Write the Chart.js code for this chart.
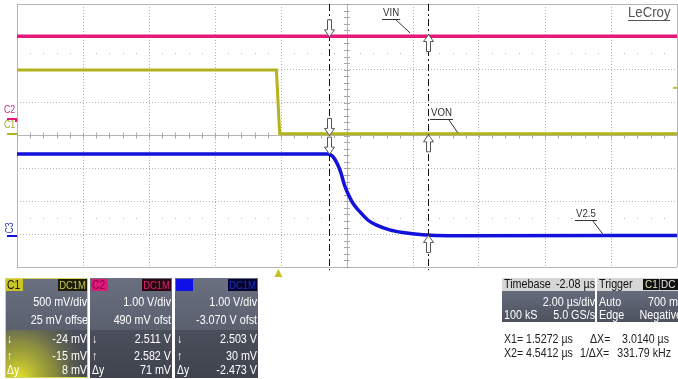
<!DOCTYPE html>
<html>
<head>
<meta charset="utf-8">
<script src="https://cdn.jsdelivr.net/npm/chart.js@4"></script>
<style>
  html, body { margin: 0; padding: 0; background: #fff; }
  #wrap { position: relative; width: 678px; height: 379px; }
</style>
</head>
<body>
<div id="wrap"><canvas id="scope" width="678" height="379"></canvas></div>
<script>
// Scope capture: time in µs, levels in volts
const X_MIN   = -7.92;   // left edge of the screen, µs
const X_DIV   = 2.0;     // µs/div
const N_XDIV  = 10;
const N_YDIV  = 8;

const C1_T = [-7.92, -0.06, 0.04, 12.08];
const C1_V = [0.972, 0.972, 0.0, 0.0];

const C2_T = [-7.92, 12.08];
const C2_V = [2.53, 2.53];

const C3_T = [-7.92, 1.50, 1.65, 1.80, 1.90, 2.00, 2.10, 2.26, 2.46, 2.71, 2.96, 3.37, 3.77, 4.37, 5.18, 12.08];
const C3_V = [2.51, 2.51, 2.43, 2.18, 1.92, 1.57, 1.32, 1.01, 0.76, 0.50, 0.35, 0.20, 0.12, 0.05, 0.02, 0.03];

// channel setup
const CH_NAMES  = ['C1', 'C2', 'C3'];
const CH_VDIV   = [0.5, 1.0, 1.0];
const CH_OFST   = [0.025, 0.49, -3.07];
const CH_COLORS = ['#b3b31c', '#e8177c', '#1212dc'];

// cursors
const CURSOR_X  = [1.5272, 4.5412];
const C1_CUR    = [-0.024, -0.015];
const C2_CUR    = [2.511, 2.582];
const C3_CUR    = [2.503, 0.030];

const TRIG_T     = 0;
const TRIG_LEVEL = 0.7;   // on C1

// trace labels: [text, time, volts, channel index] (leader line ends on the trace)
const TRACE_LABELS = [
  ['VIN',  3.99, 2.60, 1],
  ['VON',  5.44, 0.0,  0],
  ['V2.5', 9.84, 0.03, 2],
];

const pts = (t, v) => t.map((x, i) => ({ x, y: v[i] }));
const axisId = i => 'y' + (i + 1);

// --- drawing helpers ---
function txt(ctx, s, x, y, o = {}) {
  ctx.save();
  ctx.translate(x, y);
  ctx.scale(o.sx || 0.86, 1);
  ctx.font = `${o.weight || 'normal'} ${o.size || 12}px "Liberation Sans", Arial, sans-serif`;
  ctx.fillStyle = o.color || '#fff';
  ctx.textAlign = o.align || 'left';
  ctx.textBaseline = 'middle';
  ctx.fillText(s, 0, 0);
  const w = ctx.measureText(s).width * (o.sx || 0.86);
  ctx.restore();
  return w;
}

function arrow(ctx, x, yTip, dir) {
  // dir 1 = points down (body above tip), -1 = points up
  const hw = 5, sw = 2, headH = 7, len = 17;
  const yb = yTip - dir * len, yh = yTip - dir * headH;
  ctx.beginPath();
  ctx.moveTo(x - sw, yb); ctx.lineTo(x + sw, yb); ctx.lineTo(x + sw, yh);
  ctx.lineTo(x + hw, yh); ctx.lineTo(x, yTip); ctx.lineTo(x - hw, yh);
  ctx.lineTo(x - sw, yh); ctx.closePath();
  ctx.fillStyle = '#fff'; ctx.fill();
  ctx.strokeStyle = '#555'; ctx.lineWidth = 1; ctx.stroke();
}

function chPanel(ctx, x0, w, i, rows) {
  const y0 = 278, h = 100, mid = 330;
  ctx.save();
  ctx.beginPath(); ctx.rect(x0, y0, w, h); ctx.clip();
  let g = ctx.createLinearGradient(0, y0, 0, mid);
  g.addColorStop(0, '#6a7080'); g.addColorStop(1, '#5a606e');
  ctx.fillStyle = g; ctx.fillRect(x0, y0, w, mid - y0);
  g = ctx.createLinearGradient(0, mid, 0, y0 + h);
  g.addColorStop(0, '#4a4f5b'); g.addColorStop(1, '#3e434e');
  ctx.fillStyle = g; ctx.fillRect(x0, mid, w, y0 + h - mid);
  if (i === 0) {
    const rg = ctx.createRadialGradient(x0 + 14, y0 + h, 2, x0 + 14, y0 + h, 72);
    rg.addColorStop(0, 'rgba(222,222,40,1)');
    rg.addColorStop(0.5, 'rgba(180,180,50,0.6)');
    rg.addColorStop(1, 'rgba(120,120,80,0)');
    ctx.fillStyle = rg; ctx.fillRect(x0, mid, w, y0 + h - mid);
  }
  // header
  const hdrBg  = ['#c9c42a', '#e01a7c', '#1010e8'];
  const hdrTx  = ['#1a1a00', '#8a0040', '#1010e8'];
  const dcBg   = ['#1c1c08', '#2a0612', '#04042e'];
  const dcTx   = ['#c8c850', '#e0206e', '#1c2cc8'];
  ctx.fillStyle = hdrBg[i]; ctx.fillRect(x0 + 1, y0 + 1, 17, 12);
  txt(ctx, CH_NAMES[i], x0 + 2, y0 + 7.5, { color: hdrTx[i], size: 12 });
  ctx.fillStyle = dcBg[i]; ctx.fillRect(x0 + w - 30, y0 + 1, 29, 12);
  txt(ctx, 'DC1M', x0 + w - 2, y0 + 7.5, { color: dcTx[i], size: 11, align: 'right' });
  // rows
  const ys = [303, 321, 340, 357, 371];
  const sym = ['', '', '\u2193', '\u2191', '\u0394y'];
  rows.forEach((r, k) => {
    txt(ctx, r, x0 + w + (k === 1 && i === 0 ? 3 : -1), ys[k], { align: 'right', size: 12.5 });
    if (sym[k]) txt(ctx, sym[k], x0 + 2, ys[k], { size: 12 });
  });
  ctx.restore();
  if (i === 0) {
    ctx.strokeStyle = '#d8d460'; ctx.lineWidth = 1;
    ctx.strokeRect(x0 + 0.5, y0 + 0.5, w - 1, h - 1);
  }
}

const fmtV = v => Math.abs(v) < 1 ? `${Math.round(v * 1000)} mV` : `${v.toFixed(3)} V`;

const scopeDecor = {
  id: 'scopeDecor',
  beforeDatasetsDraw(chart) {
    const { ctx, scales } = chart;
    const xs = scales.x, yd = scales.yDiv;
    const xc = xs.getPixelForValue(X_MIN + X_DIV * N_XDIV / 2), yc = yd.getPixelForValue(0);
    ctx.save();
    ctx.strokeStyle = '#a8a8a8'; ctx.lineWidth = 1;
    // sub-division ticks on the centre axes
    for (let k = 0; k <= N_XDIV * 5; k++) {
      const x = Math.round(xs.getPixelForValue(X_MIN + k * X_DIV / 5)) + 0.5;
      ctx.beginPath(); ctx.moveTo(x, yc - 3); ctx.lineTo(x, yc + 3); ctx.stroke();
    }
    for (let k = 0; k <= N_YDIV * 5; k++) {
      const y = Math.round(yd.getPixelForValue(-4 + k / 5)) + 0.5;
      ctx.beginPath(); ctx.moveTo(xc - 3, y); ctx.lineTo(xc + 3, y); ctx.stroke();
    }
    // dotted rows at +/-2.5 div
    ctx.fillStyle = '#b8b8b8';
    [2.5, -2.5].forEach(d => {
      const y = Math.round(yd.getPixelForValue(d));
      for (let k = 1; k < N_XDIV * 5; k++) {
        if (k % 5 === 0) continue;
        ctx.fillRect(Math.round(xs.getPixelForValue(X_MIN + k * X_DIV / 5)), y, 1, 1);
      }
    });
    ctx.restore();
  },
  afterDatasetsDraw(chart) {
    const { ctx, chartArea: a, scales } = chart;
    const xs = scales.x;
    ctx.save();
    // cursors
    ctx.strokeStyle = '#111'; ctx.lineWidth = 1; ctx.setLineDash([7, 3, 2, 3]);
    CURSOR_X.forEach(t => {
      const x = Math.round(xs.getPixelForValue(t)) + 0.5;
      ctx.beginPath(); ctx.moveTo(x, a.top); ctx.lineTo(x, a.bottom + 3); ctx.stroke();
    });
    ctx.setLineDash([]);
    [C1_CUR, C2_CUR, C3_CUR].forEach((cur, i) => {
      const ys = scales[axisId(i)];
      cur.forEach((v, k) => arrow(ctx, Math.round(xs.getPixelForValue(CURSOR_X[k])) + 0.5,
        ys.getPixelForValue(v), k === 0 ? 1 : -1));
    });
    // trace labels with leader lines
    TRACE_LABELS.forEach(([s, t, v, ch]) => {
      const xe = xs.getPixelForValue(t), ye = scales[axisId(ch)].getPixelForValue(v);
      const xl = Math.round(xe - 28), yl = Math.round(ye - 15);
      const lw = txt(ctx, s, xl + 1, yl - 6, { color: '#333', size: 11, sx: 0.88 }) + 2;
      ctx.strokeStyle = '#333'; ctx.lineWidth = 1;
      ctx.beginPath(); ctx.moveTo(xl, yl + 0.5); ctx.lineTo(xl + lw, yl + 0.5);
      ctx.moveTo(xl + lw - 4, yl + 1); ctx.lineTo(xe, ye - 1); ctx.stroke();
    });
    // LeCroy logo
    txt(ctx, 'LeCroy', 628, 13, { color: '#555', size: 15, sx: 0.88 });
    ctx.fillStyle = '#555'; ctx.fillRect(628, 20, 42, 1);
    ctx.restore();
  },
  afterDraw(chart) {
    const { ctx, chartArea: a, scales } = chart;
    const xs = scales.x;
    ctx.save();
    // channel ground markers and names on the left
    CH_NAMES.forEach((n, i) => {
      const y = Math.round(scales[axisId(i)].getPixelForValue(0));
      ctx.fillStyle = CH_COLORS[i];
      ctx.fillRect(7, y - 1, 10, 2);
      if (i === 1) ctx.fillRect(15, y - 1, 2, 4);
    });
    txt(ctx, 'C2', 4, 110, { color: '#c0308a', size: 11, sx: 0.8 });
    txt(ctx, 'C1', 4, 125, { color: '#a8a830', size: 11, sx: 0.8 });
    ctx.save(); ctx.translate(10, 228); ctx.rotate(-Math.PI / 2);
    txt(ctx, 'C3', 0, 0, { color: '#2a3aa8', size: 11, sx: 0.8, align: 'center' });
    ctx.restore();
    // trigger position / level markers
    const tx = xs.getPixelForValue(TRIG_T);
    ctx.fillStyle = '#c8c020';
    ctx.beginPath(); ctx.moveTo(tx, 269); ctx.lineTo(tx + 4, 277); ctx.lineTo(tx - 4, 277); ctx.closePath(); ctx.fill();
    const tl = scales.y1.getPixelForValue(TRIG_LEVEL);
    ctx.fillRect(a.right - 4, tl - 1, 4, 2);

    // channel panels
    chPanel(ctx, 5, 83, 0, [`${CH_VDIV[0] * 1000} mV/div`, `${CH_OFST[0] * 1000} mV offset`,
      fmtV(C1_CUR[0]), fmtV(C1_CUR[1]), fmtV(C1_CUR[1] - C1_CUR[0] - 0.001)]);
    chPanel(ctx, 90, 82, 1, [`${CH_VDIV[1].toFixed(2)} V/div`, `${CH_OFST[1] * 1000} mV ofst`,
      fmtV(C2_CUR[0]), fmtV(C2_CUR[1]), fmtV(C2_CUR[1] - C2_CUR[0])]);
    chPanel(ctx, 175, 83, 2, [`${CH_VDIV[2].toFixed(2)} V/div`, `${CH_OFST[2].toFixed(3)} V ofst`,
      fmtV(C3_CUR[0]), fmtV(C3_CUR[1]), fmtV(C3_CUR[1] - C3_CUR[0])]);

    // timebase panel
    const dark = (x, w) => {
      const g = ctx.createLinearGradient(0, 291, 0, 322);
      g.addColorStop(0, '#666c7c'); g.addColorStop(1, '#4c515d');
      ctx.fillStyle = g; ctx.fillRect(x, 291, w, 31);
    };
    ctx.fillStyle = '#d6d6d6'; ctx.fillRect(502, 278, 93, 13);
    dark(502, 93);
    txt(ctx, 'Timebase', 504, 285, { color: '#111', size: 12.5 });
    txt(ctx, '-2.08 \u00b5s', 595, 285, { color: '#111', size: 12.5, align: 'right' });
    txt(ctx, `${X_DIV.toFixed(2)} \u00b5s/div`, 595, 303, { size: 12.5, align: 'right' });
    txt(ctx, '100 kS', 504, 316, { size: 12.5 });
    txt(ctx, '5.0 GS/s', 595, 316, { size: 12.5, align: 'right' });
    // trigger panel
    ctx.save(); ctx.beginPath(); ctx.rect(597, 278, 81, 44); ctx.clip();
    ctx.fillStyle = '#d6d6d6'; ctx.fillRect(597, 278, 81, 13);
    dark(597, 81);
    txt(ctx, 'Trigger', 599, 285, { color: '#111', size: 12.5 });
    ctx.fillStyle = '#111'; ctx.fillRect(643, 279, 35, 11);
    txt(ctx, 'C1', 645, 285, { color: '#e8e8c0', size: 11.5 });
    ctx.fillStyle = '#888'; ctx.fillRect(659, 279, 1, 11);
    txt(ctx, 'DC', 661, 285, { color: '#e8e8e8', size: 11.5 });
    txt(ctx, 'Auto', 599, 303, { size: 12.5 });
    txt(ctx, `${TRIG_LEVEL * 1000} mV`, 685, 303, { size: 12.5, align: 'right' });
    txt(ctx, 'Edge', 599, 316, { size: 12.5 });
    txt(ctx, 'Negative', 682, 316, { size: 12.5, align: 'right' });
    ctx.restore();
    // cursor readout
    const dX = CURSOR_X[1] - CURSOR_X[0];
    const o = { color: '#222', size: 12.5, sx: 0.85 };
    txt(ctx, 'X1=', 504, 340, o);
    txt(ctx, `${CURSOR_X[0].toFixed(4)} \u00b5s`, 526, 340, o);
    txt(ctx, '\u0394X=', 590, 340, o);
    txt(ctx, `${dX.toFixed(4)} \u00b5s`, 669, 340, { ...o, align: 'right' });
    txt(ctx, 'X2=', 504, 354, o);
    txt(ctx, `${CURSOR_X[1].toFixed(4)} \u00b5s`, 526, 354, o);
    txt(ctx, '1/\u0394X=', 580, 354, o);
    txt(ctx, `${(1000 / dX).toFixed(2)} kHz`, 671, 354, { ...o, align: 'right' });
    ctx.restore();
  }
};

const gridDash = ctx => {
  const t = ctx.tick ? ctx.tick.value : null;
  return ctx.index === 0 || ctx.index === ctx.scale.ticks.length - 1 || Math.abs(t - ctx.scale._mid) < 1e-6 ? [] : [1, 2];
};

const chart = new Chart(document.getElementById('scope'), {
  type: 'line',
  data: {
    datasets: [
      { data: pts(C2_T, C2_V), yAxisID: 'y2', borderColor: CH_COLORS[1], borderWidth: 3.5 },
      { data: pts(C1_T, C1_V), yAxisID: 'y1', borderColor: CH_COLORS[0], borderWidth: 3 },
      { data: pts(C3_T, C3_V), yAxisID: 'y3', borderColor: CH_COLORS[2], borderWidth: 3.5,
        cubicInterpolationMode: 'monotone' },
    ],
  },
  options: {
    responsive: false,
    animation: false,
    events: [],
    layout: { padding: { left: 17, top: 4, right: 1, bottom: 112 } },
    elements: { point: { radius: 0 }, line: { tension: 0 } },
    plugins: { legend: { display: false }, tooltip: { enabled: false } },
    scales: {
      x: {
        type: 'linear',
        min: X_MIN,
        max: X_MIN + X_DIV * N_XDIV,
        afterBuildTicks: s => {
          s._mid = X_MIN + X_DIV * N_XDIV / 2;
          s.ticks = Array.from({ length: N_XDIV + 1 }, (_, i) => ({ value: X_MIN + i * X_DIV }));
        },
        afterFit: s => { s.height = 0; },
        ticks: { display: false },
        grid: { color: '#b4b4b4', drawTicks: false },
        border: { display: false, dash: gridDash },
      },
      yDiv: {
        type: 'linear',
        position: 'left',
        min: -N_YDIV / 2,
        max: N_YDIV / 2,
        afterBuildTicks: s => {
          s._mid = 0;
          s.ticks = Array.from({ length: N_YDIV + 1 }, (_, i) => ({ value: -N_YDIV / 2 + i }));
        },
        afterFit: s => { s.width = 0; },
        ticks: { display: false },
        grid: { color: '#b4b4b4', drawTicks: false },
        border: { display: false, dash: gridDash },
      },
      ...Object.fromEntries(CH_NAMES.map((n, i) => [axisId(i), {
        type: 'linear',
        display: false,
        min: -N_YDIV / 2 * CH_VDIV[i] - CH_OFST[i],
        max:  N_YDIV / 2 * CH_VDIV[i] - CH_OFST[i],
      }])),
    },
  },
  plugins: [scopeDecor],
});
</script>
</body>
</html>
